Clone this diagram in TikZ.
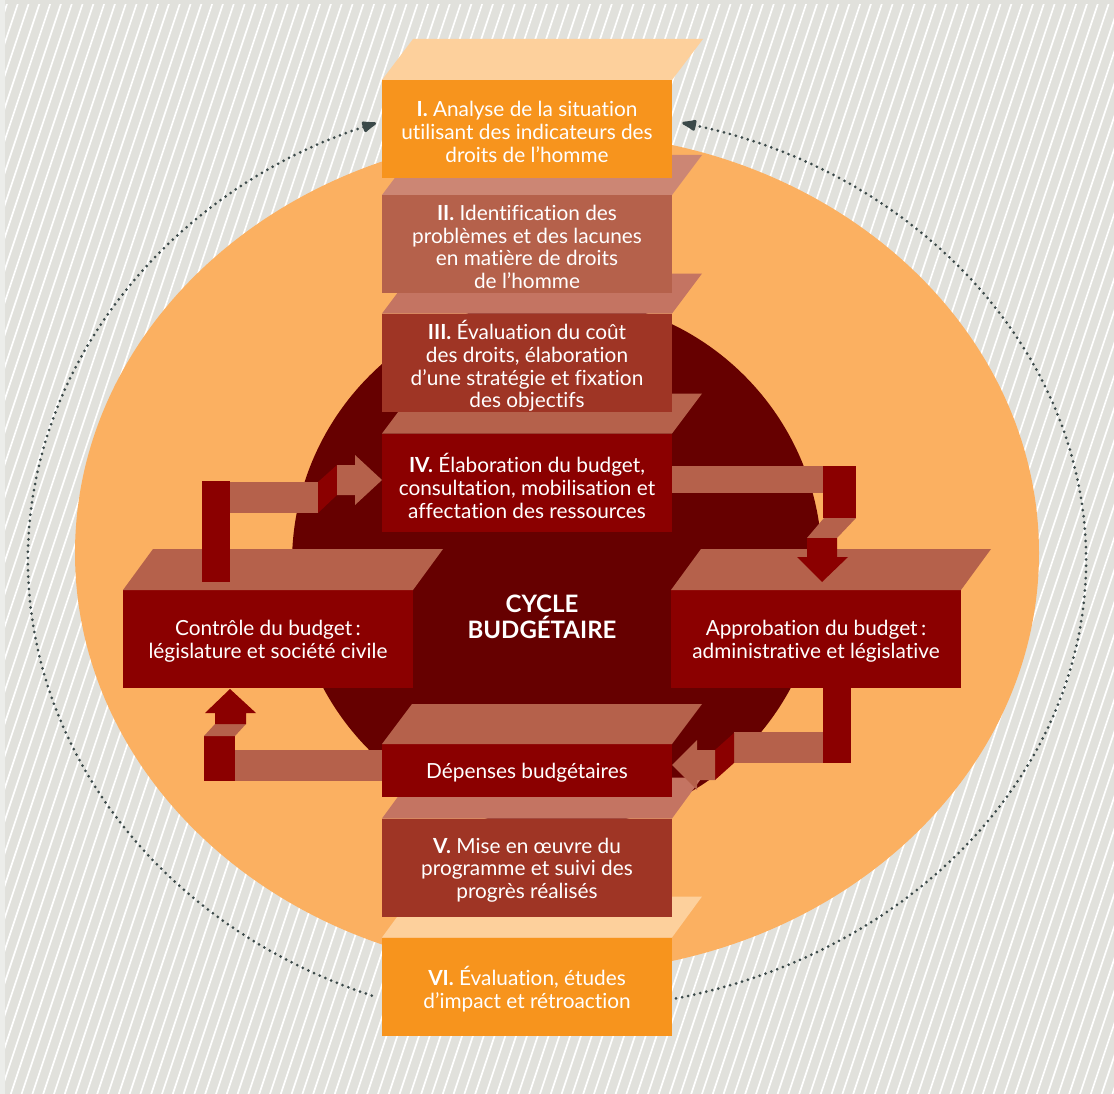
\documentclass[tikz,border=0pt]{standalone}
\usepackage{fontspec}
\setmainfont{Lato}[Ligatures=NoCommon]
\usetikzlibrary{arrows.meta}
\definecolor{bggrey}{HTML}{E1E1DC}
\definecolor{bgedge}{HTML}{ECEDEA}
\definecolor{orangebg}{HTML}{FBB061}
\definecolor{darkcirc}{HTML}{660000}
\definecolor{orfront}{HTML}{F7941D}
\definecolor{ortop}{HTML}{FDD09C}
\definecolor{brfront}{HTML}{B5614B}
\definecolor{brtop}{HTML}{CC8674}
\definecolor{rufront}{HTML}{9F3525}
\definecolor{rutop}{HTML}{C47462}
\definecolor{dred}{HTML}{8B0000}
\definecolor{dotcol}{HTML}{3B4949}
\begin{document}
\begin{tikzpicture}[x=1pt,y=-1pt,
  boxfront/.style={minimum width=290pt,inner sep=0pt,outer sep=0pt,text=white,align=center,
    font=\fontsize{20.8}{22.7}\selectfont},
  tallbox/.style={boxfront,minimum height=98pt},
  boxtext/.style={text=white,align=center,inner sep=0pt,font=\fontsize{20.8}{22.7}\selectfont},
  stripe/.style={white,line width=1.7pt},
  dotarc/.style={dotcol,line width=3pt,line cap=round,dash pattern=on 0pt off 6.2pt,
    -{Latex[length=19pt,width=13pt,round]}},
  arrbrown/.style={fill=brfront},
  arrdark/.style={fill=dred}]
\useasboundingbox (0,0) rectangle (1114,1094);
% background
\fill[bggrey] (0,0) rectangle (1114,1094);
\fill[bgedge] (0,0) rectangle (5,1094);
\begin{scope}
  \clip (5,5) rectangle (1114,1094);
  \foreach \k in {-35,...,104} \draw[stripe] ({\k*10.8},1094) -- ++(364.7,-1094);
\end{scope}
% big orange ellipse and dark circle
\fill[orangebg] (557,553) ellipse [x radius=482, y radius=420];
\fill[darkcirc] (557,563) circle [radius=265];
% dotted feedback arcs
\coordinate (dl) at ([shift={(557,560)}]110.5:529 and 465);
\coordinate (dr) at ([shift={(557,560)}]77:529 and 450);
\draw[dotarc] (dl) arc[start angle=110.5, end angle=250, x radius=529, y radius=465];
\draw[dotarc] (dr) arc[start angle=77, end angle=-76.3, x radius=529, y radius=450];
% ---- boxes, back to front ----
% VI
\node[tallbox,fill=orfront] (b6) at (527,986.5) {};
\node[boxtext] at (527,989) {\textbf{VI.} Évaluation, études\\d’impact et rétroaction};
\fill[ortop] (b6.north west) -- ++(30,-41) -- ++(290,0) -- (b6.north east) -- cycle;
% V
\node[tallbox,fill=rufront] (b5) at (527,867.5) {};
\node[boxtext] at (527,870) {\textbf{V.} Mise en œuvre du\\programme et suivi des\\progrès réalisés};
\fill[rutop] (b5.north west) -- ++(30,-41) -- ++(290,0) -- (b5.north east) -- cycle;
% Depenses
\node[boxfront,minimum height=53pt,fill=dred] (dep) at (527,770.5) {};
\node[boxtext] at (527,773) {Dépenses budgétaires};
\fill[brfront] (dep.north west) -- ++(30,-40) -- ++(290,0) -- (dep.north east) -- cycle;
% side boxes
\node[tallbox,fill=dred] (ctrl) at (268,639) {};
\node[boxtext] at (268,641.5) {Contrôle du budget\,:\\législature et société civile};
\fill[brfront] (ctrl.north west) -- ++(30,-41) -- ++(290,0) -- (ctrl.north east) -- cycle;
\node[tallbox,fill=dred] (appr) at (816,639) {};
\node[boxtext] at (816,641.5) {Approbation du budget\,:\\administrative et législative};
\fill[brfront] (appr.north west) -- ++(30,-41) -- ++(290,0) -- (appr.north east) -- cycle;
% IV
\node[tallbox,fill=dred] (b4) at (527,482.5) {};
\node[boxtext] at (527,486) {\textbf{IV.} Élaboration du budget,\\consultation, mobilisation et\\affectation des ressources};
\fill[brfront] (b4.north west) -- ++(30,-40) -- ++(290,0) -- (b4.north east) -- cycle;
% III
\node[tallbox,fill=rufront] (b3) at (527,362.5) {};
\node[boxtext] at (527,366) {\textbf{III.} Évaluation du coût\\des droits, élaboration\\d’une stratégie et fixation\\des objectifs};
\fill[rutop] (b3.north west) -- ++(30,-40) -- ++(290,0) -- (b3.north east) -- cycle;
% II
\node[tallbox,fill=brfront] (b2) at (527,244) {};
\node[boxtext] at (527,247) {\textbf{II.} Identification des\\problèmes et des lacunes\\en matière de droits\\de l’homme};
\fill[brtop] (b2.north west) -- ++(30,-40) -- ++(290,0) -- (b2.north east) -- cycle;
% I
\node[tallbox,fill=orfront] (b1) at (527,129) {};
\node[boxtext] at (527,132) {\textbf{I.} Analyse de la situation\\utilisant des indicateurs des\\droits de l’homme};
\fill[ortop] (b1.north west) -- ++(31,-41) -- ++(290,0) -- (b1.north east) -- cycle;
% centre title
\node[text=white,align=center,font=\fontsize{24}{26}\selectfont\bfseries] (title) at (542,617) {CYCLE\\BUDGÉTAIRE};
% ---- elbow arrows ----
% Controle -> IV
\fill[arrdark] (202,481) rectangle (230,582);
\fill[arrbrown] (230,482) rectangle (318,513);
\fill[arrdark] (318,482) -- (337,465) -- (337,495) -- (318,513) -- cycle;
\fill[arrbrown] (337,465) -- (355,465) -- (355,455) -- (b4.west |- 0,480) -- (355,505) -- (355,495) -- (337,495) -- cycle;
% IV -> Approbation
\fill[arrbrown] (b4.east |- 0,466) rectangle (824,493);
\fill[arrdark] (823,466) rectangle (856,518);
\fill[arrbrown] (824,518) -- (856,518) -- (837,538) -- (807,538) -- cycle;
\fill[arrdark] (807,538) -- (837,538) -- (837,557) -- (848,557) -- (822,582) -- (797,557) -- (807,557) -- cycle;
% Approbation -> Depenses
\fill[arrdark] (823,688) rectangle (851,763);
\fill[arrbrown] (734,732) rectangle (823,763);
\fill[arrdark] (715,750) -- (734,733) -- (734,763) -- (715,780) -- cycle;
\fill[arrbrown] (715,750) -- (697,750) -- (697,740) -- (dep.east |- 0,765) -- (697,790) -- (697,780) -- (715,780) -- cycle;
% Depenses -> Controle
\fill[arrbrown] (235,750) rectangle (dep.west |- 0,781);
\fill[arrdark] (204,736) rectangle (235,781);
\fill[arrbrown] (204,736) -- (235,736) -- (246,724) -- (215,724) -- cycle;
\fill[arrdark] (215,724) -- (246,724) -- (246,713) -- (256,713) -- (230,689) -- (205,713) -- (215,713) -- cycle;
\end{tikzpicture}
\end{document}
